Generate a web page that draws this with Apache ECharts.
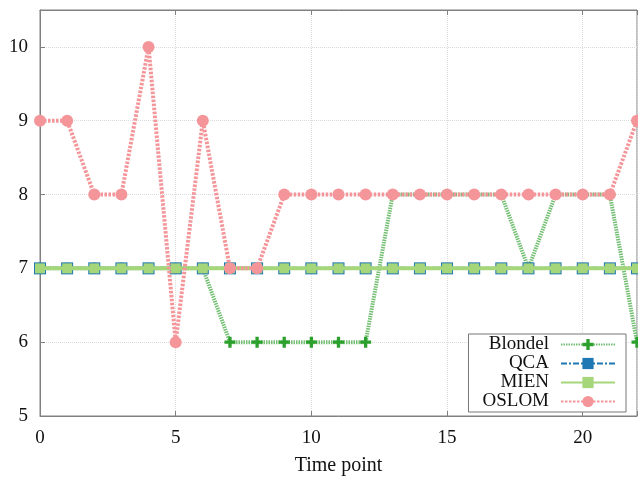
<!DOCTYPE html>
<html><head><meta charset="utf-8">
<script src="https://cdn.jsdelivr.net/npm/echarts@6/dist/echarts.min.js"></script>
<style>html,body{margin:0;padding:0;background:#fff}#c{width:638px;height:477px}</style>
</head><body><div id="c"></div>
<script>
var timePoints = [0,1,2,3,4,5,6,7,8,9,10,11,12,13,14,15,16,17,18,19,20,21,22];
var blondel = [7,7,7,7,7,7,7,6,6,6,6,6,6,8,8,8,8,8,7,8,8,8,6];
var qca     = [7,7,7,7,7,7,7,7,7,7,7,7,7,7,7,7,7,7,7,7,7,7,7];
var mien    = [7,7,7,7,7,7,7,7,7,7,7,7,7,7,7,7,7,7,7,7,7,7,7];
var oslom   = [9,9,8,8,10,6,9,7,7,8,8,8,8,8,8,8,8,8,8,8,8,8,9];
var xTicks = [0,5,10,15,20];
var yTicks = [5,6,7,8,9,10];

function pairs(v){ return timePoints.map(function(t,i){ return [t, v[i]]; }); }
var font = '"Liberation Serif", "DejaVu Serif", serif';
var plusPath = 'path://M3.5,0 L6.5,0 L6.5,3.5 L10,3.5 L10,6.5 L6.5,6.5 L6.5,10 L3.5,10 L3.5,6.5 L0,6.5 L0,3.5 L3.5,3.5 Z';

var chart = echarts.init(document.getElementById('c'), null, {renderer:'canvas'});
chart.setOption({
  animation:false,
  backgroundColor:'#fff',
  grid:{left:40, right:1, top:10, bottom:61, show:true, borderColor:'#808080', borderWidth:1,
        backgroundColor:'transparent', containLabel:false, outerBoundsMode:'none'},
  legend:{
    orient:'vertical', align:'right', right:12, bottom:65,
    backgroundColor:'#fff', borderColor:'#777', borderWidth:1,
    padding:[1,10,1,14], itemGap:0, itemWidth:54, itemHeight:14,
    textStyle:{fontFamily:font, fontSize:19, color:'#111', padding:[0,7,0,0], lineHeight:19},
    data:['Blondel','QCA','MIEN','OSLOM']
  },
  xAxis:[{
    type:'value', min:0, max:22, interval:5,
    name:'Time point', nameLocation:'middle', nameGap:40,
    nameTextStyle:{fontFamily:font, fontSize:20, color:'#111'},
    axisLine:{show:true, lineStyle:{color:'#808080'}},
    axisTick:{show:true, inside:true, length:5, lineStyle:{color:'#808080'}},
    axisLabel:{fontFamily:font, fontSize:19, color:'#111', margin:13,
      formatter:function(v){ return xTicks.indexOf(v) >= 0 ? String(v) : ''; }},
    splitLine:{show:true, lineStyle:{color:'#dcdcdc', type:'dotted'}}
  },{
    type:'value', min:0, max:22, interval:5, position:'top',
    axisLine:{show:true, lineStyle:{color:'#808080'}},
    axisTick:{show:true, inside:true, length:5, lineStyle:{color:'#808080'}},
    axisLabel:{show:false}, splitLine:{show:false}
  }],
  yAxis:{
    type:'value', min:5, max:10.5, interval:1,
    axisLine:{show:true, lineStyle:{color:'#808080'}},
    axisTick:{show:true, inside:true, length:5, lineStyle:{color:'#808080'}},
    axisLabel:{fontFamily:font, fontSize:19, color:'#111', margin:12,
      formatter:function(v){ return yTicks.indexOf(v) >= 0 ? String(v) : ''; }},
    splitLine:{show:true, lineStyle:{color:'#dcdcdc', type:'dotted'}}
  },
  series:[
    {name:'Blondel', type:'line', data:pairs(blondel), symbol:plusPath, symbolSize:11,
     itemStyle:{color:'#2ca02c'}, lineStyle:{color:'#74bf74', width:4, type:[1.5,1]}, z:2},
    {name:'QCA', type:'line', data:pairs(qca), symbol:'rect', symbolSize:12,
     itemStyle:{color:'#1f77b4'}, lineStyle:{color:'#1f77b4', width:3, type:[6,2,2,2]}, z:3},
    {name:'MIEN', type:'line', data:pairs(mien), symbol:'rect', symbolSize:10,
     itemStyle:{color:'#a6d67a'}, lineStyle:{color:'#a6d67a', width:4, type:'solid'}, z:4},
    {name:'OSLOM', type:'line', data:pairs(oslom), symbol:'circle', symbolSize:12,
     itemStyle:{color:'#f4959a'}, lineStyle:{color:'#f4959a', width:4, type:[2.5,1.5]}, z:5}
  ]
});
</script></body></html>
